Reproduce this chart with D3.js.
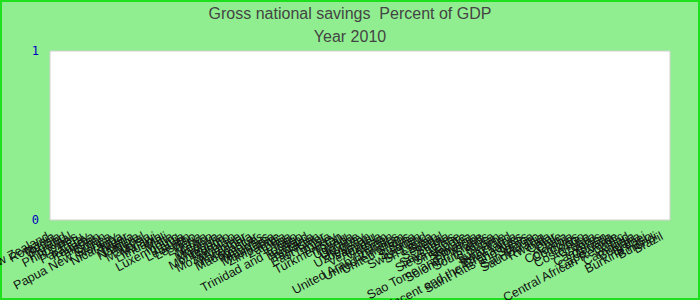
<!DOCTYPE html>
<html>
<head>
<meta charset="utf-8">
<script src="https://cdn.jsdelivr.net/npm/d3@7"></script>
<style>
  body { margin: 0; padding: 0; background: #fff; }
  svg { display: block; }
</style>
</head>
<body>
<svg id="chart" width="700" height="300"></svg>
<script>
// chart texts
const titleText = "Gross national savings  Percent of GDP";
const subtitleText = "Year 2010";

// categories (x axis)
const countries = [
  "New Zealand", "Romania", "Russia", "Poland", "Portugal", "Philippines", "Peru",
  "Paraguay", "Panama", "Pakistan", "Oman", "Papua New Guinea", "Norway", "Nicaragua",
  "Niger", "Nigeria", "Namibia", "Nepal", "Malaysia", "Malawi", "Lithuania", "Mali",
  "Malta", "Luxembourg", "Latvia", "Lebanon", "Lesotho", "Liberia", "Libya", "Mexico",
  "Moldova", "Mongolia", "Montenegro", "Morocco", "Mozambique", "Myanmar", "Macedonia",
  "Madagascar", "Maldives", "Mauritius", "Mauritania", "Zimbabwe", "Zambia",
  "Tonga", "Togo", "Trinidad and Tobago", "Thailand", "Tanzania", "Tajikistan",
  "East Timor", "Tunisia", "Turkey", "Turkmenistan", "Tuvalu", "Uganda", "Ukraine",
  "Uruguay", "Uzbekistan", "Vanuatu", "Venezuela", "Vietnam", "Yemen",
  "United Arab Emirates", "United Kingdom", "United States", "Syria", "Sweden",
  "Switzerland", "Sri Lanka", "Spain", "Senegal", "Serbia", "Seychelles",
  "Sierra Leone", "Singapore", "Slovakia", "Slovenia", "Sao Tome and Principe",
  "Solomon Islands", "South Africa", "Sudan", "Suriname", "Swaziland", "Saint Lucia",
  "Saint Vincent and the Grenadines", "Saint Kitts and Nevis", "Samoa", "San Marino",
  "Saudi Arabia", "Rwanda", "Qatar", "Chile", "China", "Colombia", "Comoros", "Congo",
  "Costa Rica", "Croatia", "Cyprus", "Cameroon", "Canada", "Cape Verde",
  "Central African Republic", "Chad", "Cambodia", "Bulgaria", "Brunei",
  "Burkina Faso", "Burundi", "Brazil"
];

// series values: no data reported for 2010
const savings = [];

// y ticks
const yTicks = [0, 1];

const svg = d3.select('#chart');
const width = +svg.attr('width');
const height = +svg.attr('height');

const plot = { left: 50, top: 51, right: 670, bottom: 220 };

// background + frame
svg.append('rect')
  .attr('x', 1).attr('y', 1)
  .attr('width', width - 2).attr('height', height - 2)
  .attr('fill', '#90ee90')
  .attr('stroke', '#1ee01e')
  .attr('stroke-width', 2);

// titles
svg.append('text')
  .attr('x', width / 2).attr('y', 19)
  .attr('text-anchor', 'middle')
  .attr('xml:space', 'preserve')
  .style('white-space', 'pre')
  .style('font-family', '"Liberation Sans", Arial, sans-serif')
  .style('font-size', '16px')
  .style('fill', '#444')
  .text(titleText);

svg.append('text')
  .attr('x', width / 2).attr('y', 42)
  .attr('text-anchor', 'middle')
  .style('font-family', '"Liberation Sans", Arial, sans-serif')
  .style('font-size', '16px')
  .style('fill', '#444')
  .text(subtitleText);

// plot area
svg.append('rect')
  .attr('x', plot.left).attr('y', plot.top)
  .attr('width', plot.right - plot.left)
  .attr('height', plot.bottom - plot.top)
  .attr('fill', '#fff')
  .attr('stroke', '#d0d0d0')
  .attr('stroke-width', 1);

const x = d3.scaleBand()
  .domain(countries)
  .range([plot.left, plot.right])
  .padding(0.1);

const y = d3.scaleLinear()
  .domain([0, 1])
  .range([plot.bottom, plot.top]);

// bars (empty series)
svg.append('g')
  .selectAll('rect')
  .data(savings.filter(d => d.value != null))
  .enter()
  .append('rect')
  .attr('x', d => x(d.country))
  .attr('y', d => y(d.value))
  .attr('width', x.bandwidth())
  .attr('height', d => y(0) - y(d.value))
  .attr('fill', '#3366cc');

// y axis
const yAxis = svg.append('g')
  .attr('transform', `translate(${plot.left},0)`)
  .call(d3.axisLeft(y).tickValues(yTicks).tickFormat(d3.format('d')).tickSize(0).tickPadding(11));
yAxis.select('.domain').remove();
yAxis.selectAll('text')
  .style('font-family', '"DejaVu Sans Mono", monospace')
  .style('font-size', '12px')
  .style('fill', '#0000c0');

// x axis labels
const xAxis = svg.append('g')
  .attr('transform', `translate(0,${plot.bottom})`)
  .call(d3.axisBottom(x).tickSize(0));
xAxis.select('.domain').remove();
xAxis.selectAll('.tick')
  .attr('transform', d => `translate(${x(d) + x.bandwidth() / 2 - 3},19)`);
xAxis.selectAll('text')
  .attr('x', 0).attr('y', 0).attr('dy', 0)
  .attr('text-anchor', 'end')
  .attr('transform', 'rotate(-28)')
  .style('font-family', '"Liberation Sans", Arial, sans-serif')
  .style('font-size', '12.5px')
  .style('fill', '#111');
</script>
</body>
</html>
